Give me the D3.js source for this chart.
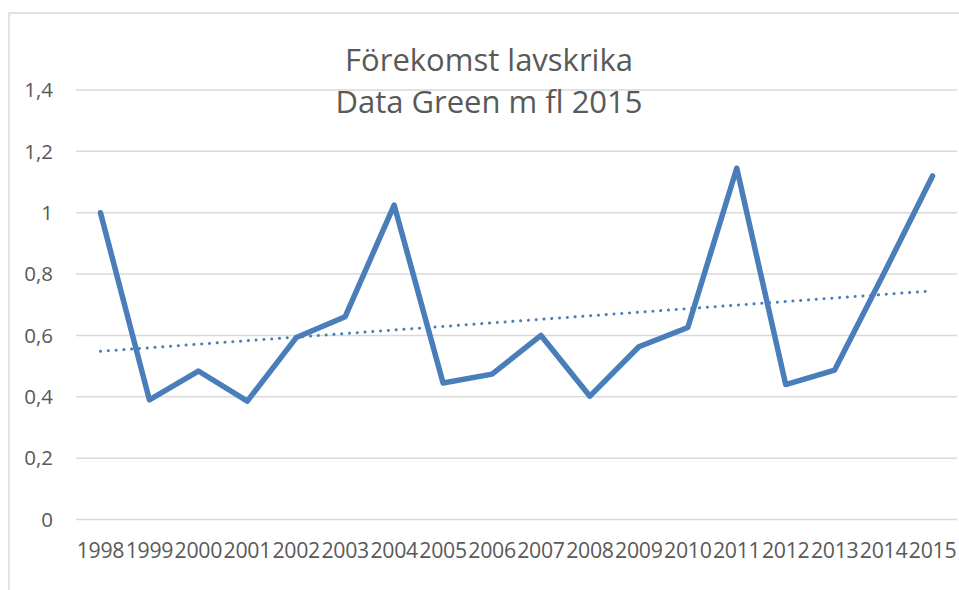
<!DOCTYPE html>
<html lang="sv">
<head>
    <meta charset="UTF-8">
    <title>Förekomst lavskrika</title>
    <script src="https://d3js.org/d3.v7.min.js"></script>
    <style>
        body {
            margin: 0;
            background: #ffffff;
        }

        svg {
            display: block;
            font-family: "Open Sans", sans-serif;
        }

        .grid line {
            stroke: #d9d9d9;
            stroke-width: 1.5;
        }

        .tick-label {
            fill: #595959;
            font-size: 20.5px;
        }

        .x-label {
            font-size: 21.3px;
            letter-spacing: -0.3px;
        }

        .title {
            fill: #595959;
            font-size: 31px;
        }
    </style>
</head>
<body>

<div id="chart"></div>

<script>
    const years = ["1998", "1999", "2000", "2001", "2002", "2003", "2004", "2005", "2006",
        "2007", "2008", "2009", "2010", "2011", "2012", "2013", "2014", "2015"];

    const occurrence = [1.0, 0.39, 0.484, 0.386, 0.593, 0.661, 1.025, 0.445, 0.474,
        0.60, 0.402, 0.563, 0.626, 1.145, 0.44, 0.487, 0.80, 1.12];

    const yTicks = [0, 0.2, 0.4, 0.6, 0.8, 1, 1.2, 1.4];

    const titleLines = ["Förekomst lavskrika", "Data Green m fl 2015"];

    const width = 959;
    const height = 590;
    const margin = {top: 90, right: 2, bottom: 70.5, left: 76};

    const svg = d3.select("#chart")
        .append("svg")
        .attr("width", width)
        .attr("height", height);

    // chart frame (runs off the right and bottom edge of the picture)
    svg.append("rect")
        .attr("x", 9)
        .attr("y", 13)
        .attr("width", width + 20)
        .attr("height", height + 20)
        .attr("fill", "none")
        .attr("stroke", "#d9d9d9")
        .attr("stroke-width", 1.5);

    const x = d3.scaleBand()
        .domain(years)
        .range([margin.left, width - margin.right]);

    const y = d3.scaleLinear()
        .domain([0, 1.4])
        .range([height - margin.bottom, margin.top]);

    const fmt = d => d3.format("")(+d.toFixed(1)).replace(".", ",");

    // horizontal gridlines
    svg.append("g")
        .attr("class", "grid")
        .selectAll("line")
        .data(yTicks)
        .enter()
        .append("line")
        .attr("x1", margin.left)
        .attr("x2", width - margin.right)
        .attr("y1", d => y(d))
        .attr("y2", d => y(d));

    // y labels
    svg.append("g")
        .selectAll("text")
        .data(yTicks)
        .enter()
        .append("text")
        .attr("class", "tick-label")
        .attr("x", 53)
        .attr("y", d => y(d))
        .attr("dy", "0.35em")
        .attr("text-anchor", "end")
        .text(fmt);

    // x labels
    svg.append("g")
        .selectAll("text")
        .data(years)
        .enter()
        .append("text")
        .attr("class", "tick-label x-label")
        .attr("x", d => x(d) + x.bandwidth() / 2)
        .attr("y", 558)
        .attr("text-anchor", "middle")
        .text(d => d);

    // linear trend from least squares
    const n = occurrence.length;
    const meanI = (n - 1) / 2;
    const meanV = d3.mean(occurrence);
    let sxy = 0, sxx = 0;
    occurrence.forEach((v, i) => {
        sxy += (i - meanI) * (v - meanV);
        sxx += (i - meanI) * (i - meanI);
    });
    const slope = sxy / sxx;
    const trend = [0, n - 1].map(i => ({i, v: meanV + slope * (i - meanI)}));

    const cx = i => x(years[i]) + x.bandwidth() / 2;

    svg.append("path")
        .datum(trend)
        .attr("fill", "none")
        .attr("stroke", "#4a7ebb")
        .attr("stroke-width", 3)
        .attr("stroke-linecap", "round")
        .attr("stroke-dasharray", "0.1 7.7")
        .attr("d", d3.line().x(d => cx(d.i)).y(d => y(d.v)));

    // data line
    svg.append("path")
        .datum(occurrence)
        .attr("fill", "none")
        .attr("stroke", "#4a7ebb")
        .attr("stroke-width", 5.5)
        .attr("stroke-linejoin", "round")
        .attr("stroke-linecap", "round")
        .attr("d", d3.line().x((d, i) => cx(i)).y(d => y(d)));

    // title
    svg.append("g")
        .selectAll("text")
        .data(titleLines)
        .enter()
        .append("text")
        .attr("class", "title")
        .attr("x", 489)
        .attr("y", (d, i) => 71 + i * 42)
        .attr("text-anchor", "middle")
        .text(d => d);
</script>

</body>
</html>
